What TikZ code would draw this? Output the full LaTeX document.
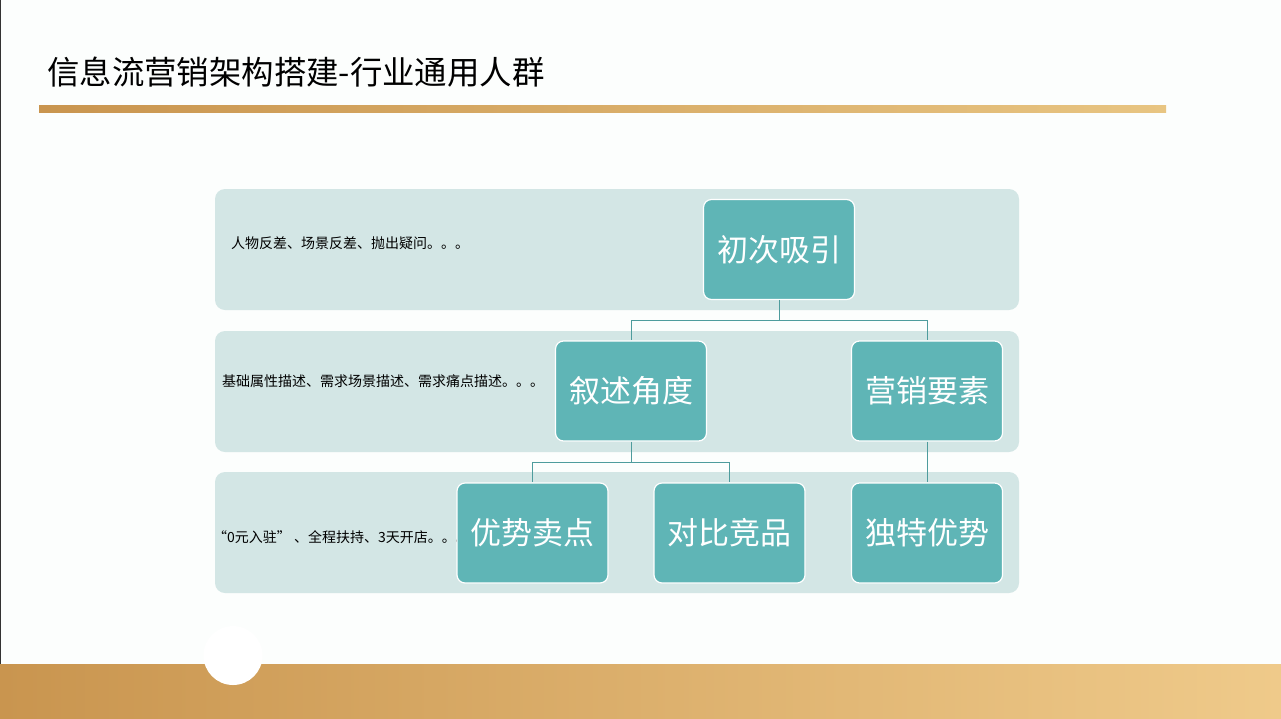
\documentclass[tikz,border=0pt]{standalone}
\usepackage{fontspec}
\setmainfont{Noto Sans CJK SC}
\newfontfamily\cjk{Noto Sans CJK SC}
\definecolor{bgc}{HTML}{FCFEFD}
\definecolor{bandc}{HTML}{D3E6E5}
\definecolor{boxc}{HTML}{5FB5B6}
\definecolor{connc}{HTML}{4E9C9D}
\definecolor{goldl}{HTML}{C9954F}
\definecolor{goldr}{HTML}{EFCA8A}
\definecolor{goldm}{HTML}{E8C582}
\tikzset{
  band/.style={fill=bandc, draw=none, rounded corners=10pt, minimum width=804pt, minimum height=121pt, inner sep=0pt},
  box/.style={fill=boxc, draw=white, line width=1.2pt, rounded corners=8pt, minimum width=151pt, minimum height=100pt, inner sep=0pt, text=white, font=\cjk\fontsize{31}{35}\selectfont},
  desc/.style={anchor=west, inner sep=0pt, text=black, font=\cjk\fontsize{14}{16}\selectfont},
  conn/.style={draw=connc, line width=1pt},
}
\begin{document}
\begin{tikzpicture}[x=1pt,y=-1pt]
\fill[bgc] (0,0) rectangle (1281,718);
\useasboundingbox (0,0) rectangle (1281,718);
\draw[black!80, line width=1pt] (0.5,0) -- (0.5,664);
% title
\node[anchor=west, inner sep=0pt, font=\cjk\fontsize{32.4}{36}\selectfont] (title) at (47,72) {信息流营销架构搭建-行业通用人群};
\shade[left color=goldl, right color=goldm] (39,105) rectangle (1166,112);
% bottom band
\shade[left color=goldl, right color=goldr] (0,664) rectangle (1281,718);
\fill[white] (233,655.5) circle (29.5);
% bands
\node[band] (b1) at (617,249.5) {};
\node[band] (b2) at (617,391.5) {};
\node[band] (b3) at (617,532.5) {};
% descriptions
\node[desc] (d1) at (231,243) {人物反差、场景反差、抛出疑问。。。};
\node[desc] (d2) at (222,381) {基础属性描述、需求场景描述、需求痛点描述。。。};
\node[desc] (d3) at (213,537) {“0元入驻” 、全程扶持、3天开店。。。};
% connectors
\coordinate (j1) at (779,320);
\coordinate (j2) at (631,462);
% boxes
\node[box] (c1) at (779,249.5) {初次吸引};
\node[box] (c2) at (631,391) {叙述角度};
\node[box] (c3) at (927,391) {营销要素};
\node[box] (c4) at (532.5,533) {优势卖点};
\node[box] (c5) at (729.5,533) {对比竞品};
\node[box] (c6) at (927,533) {独特优势};
\draw[conn] (c1.south) -- (j1) -| (c2.north);
\draw[conn] (j1) -| (c3.north);
\draw[conn] (c2.south) -- (j2) -| (c4.north);
\draw[conn] (j2) -| (c5.north);
\draw[conn] (c3.south) -- (c6.north);
\end{tikzpicture}
\end{document}
